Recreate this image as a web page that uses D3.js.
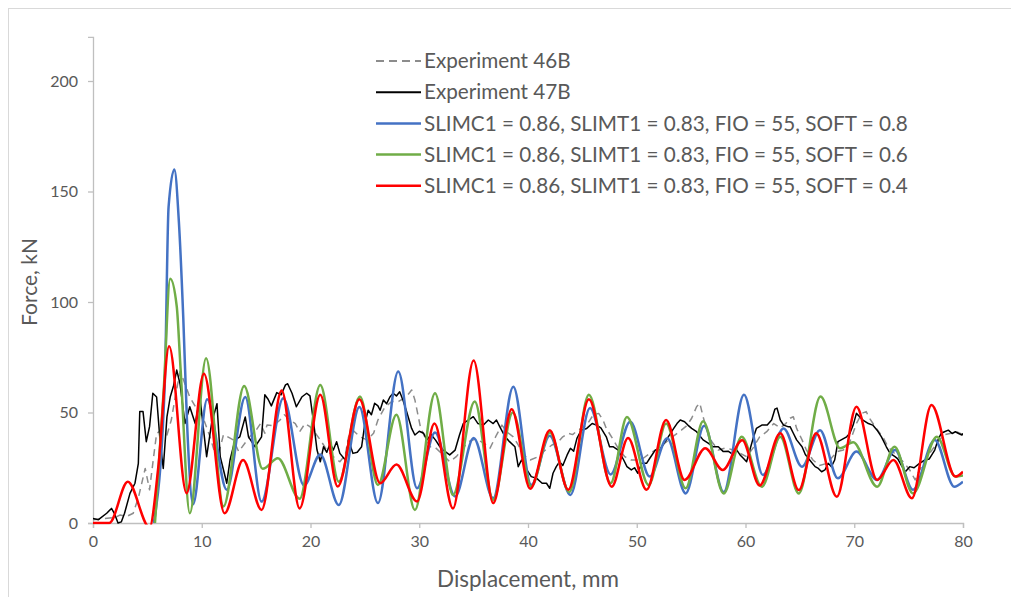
<!DOCTYPE html>
<html>
<head>
<meta charset="utf-8">
<script src="https://cdn.jsdelivr.net/npm/d3@7"></script>
<style>
  body { margin: 0; background: #fff; }
  text { font-family: Lato, "Open Sans", sans-serif; fill: #595959; }
</style>
</head>
<body>
<svg id="chart" width="1011" height="597"></svg>
<script>
// ---- data (displacement mm, force kN) ----
const xTicks = [0, 10, 20, 30, 40, 50, 60, 70, 80]
const yTicks = [0, 50, 100, 150, 200]

const exp46 = [[0,1.5],[1,2],[2,2.5],[2.5,3.6],[3.1,3],[3.7,4.4],[4.2,12],[4.8,24.7],[5.2,15],[5.5,27],[5.85,40.6],[6.3,42],[6.8,39.8],[7.2,46.6],[7.6,58],[8,68.5],[8.3,65],[8.9,57],[9.5,52],[10.1,48],[10.76,39],[11.4,28.5],[12,40],[12.9,37.6],[13.4,32.3],[14.4,39],[15,42],[15.4,45],[15.8,40.6],[16,44.3],[16.6,44],[17.2,46.6],[17.6,49],[18.1,46.6],[18.6,45],[19,41.3],[19.5,45],[19.95,43.6],[20.4,41],[20.9,37.6],[21.5,33],[22.1,30],[22.7,27.7],[23.2,30.8],[23.5,39],[23.9,42],[24.55,39],[25.2,37.6],[25.8,40.6],[26.2,46.6],[26.85,52.6],[27.5,55],[28.1,55],[28.8,57],[29.3,60.2],[29.6,55.7],[30.1,43.6],[30.5,39],[31,34.5],[31.4,34.5],[32.2,30.8],[32.8,27.7],[33.4,30],[33.9,33],[34.5,36.8],[35.2,38],[36,36],[36.5,33.8],[37.1,39.8],[37.6,44.3],[38.1,41],[38.65,39],[39.1,35.3],[39.6,30.8],[40.2,28.5],[40.95,30],[41.6,33],[42.2,35.3],[42.8,36.8],[43.2,39],[43.7,40.6],[44.1,40],[44.6,42],[45.4,44.3],[46,48.9],[46.5,49.6],[46.9,46.6],[47.2,42.8],[47.85,37.6],[48.3,33.8],[48.9,30],[49.5,28.5],[50.1,28.5],[50.6,29.3],[51.2,31.5],[51.98,33.8],[52.75,36.8],[53.5,39.8],[54.1,42],[54.6,44],[55.05,47.4],[55.5,52.6],[55.8,54.2],[56.1,48.1],[56.4,42.8],[56.9,36.8],[57.5,33],[58.2,34],[58.9,33],[59.5,31.5],[60.1,30],[60.7,34],[61.3,39],[61.95,41.3],[62.6,45],[63.2,43],[63.7,45],[64.1,47.4],[64.4,48.1],[64.7,42.8],[65.2,37.6],[65.6,33],[66.2,28.5],[66.8,26],[67.5,27],[68.4,32.3],[69,33],[69.6,36.8],[70.2,45],[70.7,49.6],[71.1,50.4],[71.4,47.4],[72,43],[72.7,38.3],[73.1,34.5],[73.8,31],[74.5,27.7],[75.1,24],[75.6,19.5],[76,24],[76.5,27.7],[77,32],[77.6,36],[78.2,39.8],[78.8,40.5],[79.4,41.3],[80,40]]

const exp47 = [[0,2],[0.5,1.5],[1.26,4.4],[1.7,6.6],[2,4],[2.3,0],[2.6,0.5],[2.9,4.4],[3.4,13.4],[3.86,18],[4.17,27],[4.3,50.4],[4.6,50.4],[4.9,36.8],[5.2,43.6],[5.5,58.7],[5.85,57],[6.16,37.6],[6.46,24.7],[6.8,48],[7.1,57],[7.4,62],[7.7,69.2],[8,63],[8.46,45],[8.9,52.6],[9.4,45],[9.84,57],[10.1,45],[10.45,30],[10.9,45],[11.4,54],[11.7,30],[12.3,18],[12.6,28.5],[13.06,37.6],[13.5,39],[14,48],[14.3,39],[14.9,34.5],[15.5,39],[15.8,58],[16.1,56],[16.4,53],[16.9,59],[17.3,58],[17.7,62.5],[17.9,63],[18.3,58.7],[18.7,52.6],[19.2,57],[19.65,58.7],[19.95,57.5],[20.3,45],[20.6,33],[20.9,27.7],[21.2,34.5],[21.5,32],[21.8,36],[22.1,33],[22.4,36.8],[22.7,31.5],[23.2,28.5],[23.5,37.6],[23.9,31.5],[24.3,32],[24.7,34.5],[25,45],[25.3,51],[25.6,49],[25.9,54.2],[26.2,53],[26.4,51],[26.7,55.7],[27,54],[27.3,57],[27.6,58.7],[27.9,57.5],[28.2,59.4],[28.5,55.7],[28.8,51],[29.3,42.8],[29.6,39.8],[30,41.5],[30.4,40.6],[30.7,37.6],[31.1,40],[31.5,37.5],[31.9,34.5],[32.2,33],[32.8,30.8],[33.3,33],[33.7,39.8],[34.05,45],[34.5,46.6],[34.97,48.1],[35.4,45],[35.9,44.3],[36.35,46.6],[36.8,45],[37.1,46.6],[37.4,43.6],[37.9,39],[38.3,36.8],[38.8,34.5],[39.1,25.5],[39.4,28.5],[39.9,24],[40.3,21],[40.8,20.2],[41.3,18],[41.7,18],[42,15.7],[42.3,22.5],[42.6,25.5],[42.9,27.7],[43.2,26],[43.6,30.8],[43.9,33.8],[44.2,32.5],[44.5,38.3],[44.9,42],[45.4,42.8],[45.9,45],[46.3,44.3],[46.7,43],[47.2,39],[47.5,34.5],[47.85,34.5],[48.3,33],[48.8,28.5],[49.1,25.5],[49.5,24],[49.8,25],[50.1,22.5],[50.45,27],[50.9,27],[51.2,29.3],[51.7,33],[52.1,33],[52.4,35.3],[52.9,39],[53.4,42.8],[53.7,45],[54,46.6],[54.4,45.8],[54.7,44.3],[55.05,42.8],[55.5,41.3],[56.1,37.6],[56.6,36],[57,34.5],[57.5,34.5],[57.96,32.3],[58.4,32.5],[58.9,30.8],[59.2,33],[59.5,30.8],[59.8,29.3],[60.1,27.7],[60.4,33],[60.7,38.3],[61,42.8],[61.5,44.3],[62,44.3],[62.4,46.6],[62.7,51.5],[62.9,52],[63.2,46.6],[63.5,44.3],[63.9,43.6],[64.1,43.6],[64.4,40.6],[64.7,37.6],[65.2,34.5],[65.5,31],[65.9,28.5],[66.4,25.5],[66.7,24.7],[67,23.2],[67.3,24],[67.6,27],[67.9,25.5],[68.2,28.5],[68.5,36.8],[68.8,37.6],[69.3,39],[69.6,40.6],[69.9,44.3],[70.2,49.6],[70.5,48.1],[70.8,46.6],[71.3,45],[71.7,44.3],[72.1,42],[72.5,39],[72.95,34.5],[73.3,31.5],[73.75,30],[74,29],[74.4,25.5],[74.7,23.2],[75.1,25.5],[75.5,25],[76,27],[76.5,28.5],[76.9,29],[77.4,33],[77.7,37.6],[78,40.6],[78.3,41.3],[78.65,42],[79,40.5],[79.3,41.3],[79.6,40.5],[79.9,39.8],[80,40.5]]

const soft08 = [[5.6,0],[6.6,63],[6.95,143],[7.48,160],[7.9,136],[8.3,93],[8.65,45],[9.2,8.5],[10.5,56],[12.3,15],[14,57],[15.5,9.7],[17.5,56.5],[19.4,17],[20.9,31],[22.6,8.1],[24.5,52.5],[26.2,9],[28.07,68.5],[29.8,15.7],[31.45,41],[33.3,12],[35,38.5],[36.8,11.2],[38.65,61.7],[40.3,17.2],[42,39.5],[43.9,12.7],[45.7,52],[47.6,22],[49.4,45.8],[51.2,21],[52.8,38.3],[54.5,13.4],[56.2,44],[58,14],[59.86,58],[61.6,21.7],[63.5,42.8],[65.2,25.5],[66.85,42],[68.5,20.2],[70.2,32.3],[72.1,19.5],[73.75,33],[75.4,15],[77.4,37.6],[79.2,16.4],[80,18.7]]

const soft06 = [[5.7,0],[6.5,60],[7.1,110.5],[7.7,98],[8.05,70],[8.9,4.4],[10.4,74.5],[12,7.5],[13.9,62],[15.6,24.5],[17,29.3],[19,11],[20.9,62.4],[22.6,18.7],[24.55,57.2],[26.2,17.2],[27.9,49],[29.6,5.9],[31.45,58.7],[33.1,12.7],[35.1,55],[36.8,10.4],[38.6,50],[40.3,16.5],[42,41],[43.8,14],[45.6,58],[47.6,18],[49.1,48],[51.1,17.2],[52.7,45],[54.5,15.7],[56.1,46],[58,13.4],[59.65,39],[61.5,16.4],[63.2,39],[64.9,13.4],[66.9,57.2],[68.7,33.8],[69.9,36.5],[72.1,16.4],[73.7,34.5],[75.4,13.4],[77.6,39],[79.3,21],[80,21.5]]

const soft04 = [[0,0],[1.5,0],[3.2,18.7],[5.2,-2],[6,25],[7,80],[8.6,13.5],[10.2,67.5],[12.1,4.4],[13.8,28.5],[15.5,5.9],[17.35,60],[19,6.6],[20.9,58],[22.5,16.5],[24.5,56],[26.4,18],[27.9,26.5],[29.8,9.7],[31.4,45],[33.1,6.6],[35,73.5],[36.8,9],[38.5,51.5],[40.2,15.5],[42,42],[43.7,15],[45.6,56],[47.7,16.4],[49.2,38.5],[50.9,15],[52.7,46.6],[54.4,19.5],[56.3,33.8],[57.9,24],[59.7,37.5],[61.3,17],[63.2,40.6],[64.9,14.9],[66.5,40.6],[68.4,11.9],[70.2,52.6],[72.1,19.5],[73.6,28.5],[75.3,11.2],[77.1,53.4],[79.3,21],[80,23.2]]

const seriesNames = [
  'Experiment 46B',
  'Experiment 47B',
  'SLIMC1 = 0.86, SLIMT1 = 0.83, FIO = 55, SOFT = 0.8',
  'SLIMC1 = 0.86, SLIMT1 = 0.83, FIO = 55, SOFT = 0.6',
  'SLIMC1 = 0.86, SLIMT1 = 0.83, FIO = 55, SOFT = 0.4'
]

// ---- styles ----
const series = [
  {name: seriesNames[0], data: exp46, color: '#8c8c8c', width: 1.5, dash: '7,5', smooth: false},
  {name: seriesNames[1], data: exp47, color: '#000000', width: 1.5, dash: null, smooth: false},
  {name: seriesNames[2], data: soft08, color: '#4472c4', width: 2.5, dash: null, smooth: true},
  {name: seriesNames[3], data: soft06, color: '#70ad47', width: 2.5, dash: null, smooth: true},
  {name: seriesNames[4], data: soft04, color: '#ff0000', width: 2.5, dash: null, smooth: true}
]

const svg = d3.select('#chart')

// scale a text's font so it spans a given length
function fitText (sel, base, target) {
  sel.style('font-size', base + 'px')
  let len = d3.max(sel.nodes(), (n) => n.getComputedTextLength())
  sel.style('font-size', (base * target / len) + 'px')
}

// outer frame
svg.append('rect')
  .attr('x', 8.5).attr('y', 8.5)
  .attr('width', 1011).attr('height', 600)
  .attr('fill', 'none').attr('stroke', '#d9d9d9')

const x = d3.scaleLinear().domain([0, 80]).range([93, 963])
const y = d3.scaleLinear().domain([0, 220]).range([523, 36.8])

// axes
let xAxis = svg.append('g')
  .attr('transform', `translate(0,${y(0)})`)
  .call(d3.axisBottom(x).tickValues(xTicks).tickSize(5).tickPadding(8))
let yAxis = svg.append('g')
  .attr('transform', `translate(${x(0)},0)`)
  .call(d3.axisLeft(y).tickValues(yTicks).tickSize(5).tickPadding(10))

;[xAxis, yAxis].forEach((g) => {
  g.selectAll('path, line').attr('stroke', '#bfbfbf').attr('stroke-width', 1.3)
  g.selectAll('text').style('font-size', '16px').attr('fill', '#595959')
})

// axis titles
let xTitle = svg.append('text')
  .attr('x', 528).attr('y', 587)
  .attr('text-anchor', 'middle')
  .text('Displacement, mm')
fitText(xTitle, 18, 182)
let yTitle = svg.append('text')
  .attr('transform', 'translate(37,282) rotate(-90)')
  .attr('text-anchor', 'middle')
  .text('Force, kN')
fitText(yTitle, 18, 88)

// clip for plot
svg.append('clipPath').attr('id', 'plot-clip')
  .append('rect')
  .attr('x', x(0)).attr('y', y(220))
  .attr('width', x(80) - x(0)).attr('height', y(0) - y(220) + 1.5)

let plot = svg.append('g').attr('clip-path', 'url(#plot-clip)')

series.forEach((s) => {
  let line = d3.line()
    .curve(s.smooth ? d3.curveMonotoneX : d3.curveLinear)
    .x((d) => x(d[0]))
    .y((d) => y(d[1]))
  plot.append('path')
    .datum(s.data)
    .attr('d', line)
    .attr('fill', 'none')
    .attr('stroke', s.color)
    .attr('stroke-width', s.width)
    .attr('stroke-linejoin', 'round')
    .attr('stroke-dasharray', s.dash)
})

// legend
let legend = svg.append('g').attr('transform', 'translate(376,61)')
let rows = legend.selectAll('g')
  .data(series)
  .enter()
  .append('g')
  .attr('transform', (d, i) => `translate(0,${i * 31.2})`)
rows.append('line')
  .attr('x1', 0).attr('x2', 45)
  .attr('stroke', (d) => d.color)
  .attr('stroke-width', (d) => d.smooth ? 2.5 : 2)
  .attr('stroke-dasharray', (d) => d.dash ? '8,5' : null)
let labels = rows.append('text')
  .attr('x', 48).attr('dy', '0.35em')
  .text((d) => d.name)

// fit legend font so the long labels span like the reference
fitText(labels, 18, 484)
</script>
</body>
</html>
